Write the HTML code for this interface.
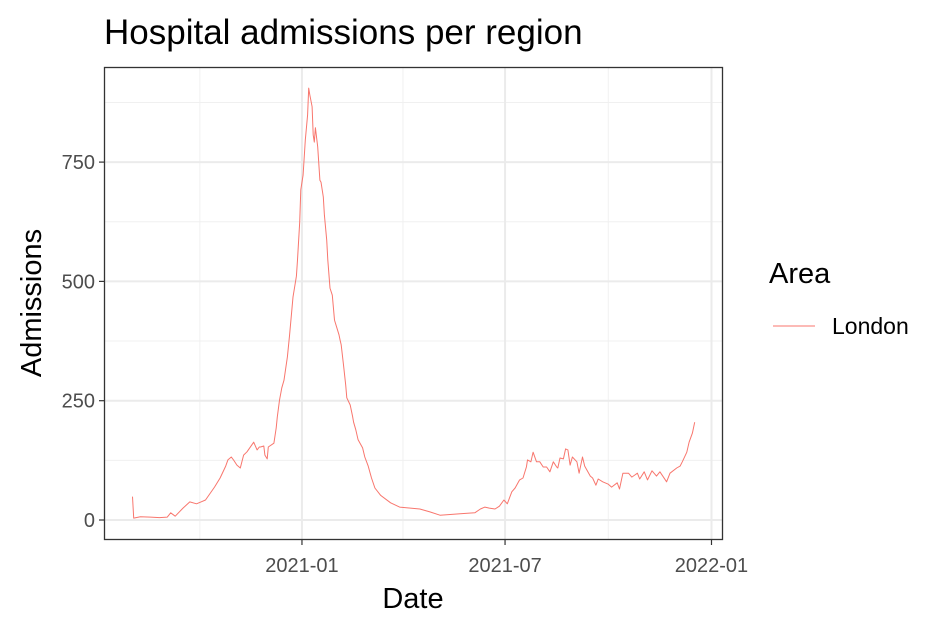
<!DOCTYPE html>
<html><head><meta charset="utf-8"><style>
body{margin:0;background:#fff;}
svg text{font-family:"Liberation Sans",Arial,sans-serif;}
</style></head><body>
<svg width="944" height="629" viewBox="0 0 944 629" xmlns="http://www.w3.org/2000/svg">
<rect width="944" height="629" fill="#fff"/>
<text x="104" y="44" font-size="35" fill="#000">Hospital admissions per region</text>
<g id="grid"></g>
<g id="series"></g>
<rect x="104.5" y="67.5" width="618" height="472" fill="none" stroke="#333" stroke-width="1.3"/>
<g id="axes"></g>
<text x="413" y="608" font-size="29" text-anchor="middle" fill="#000">Date</text>
<text transform="translate(41,303) rotate(-90)" font-size="29" text-anchor="middle" fill="#000">Admissions</text>
<g>
<text x="769" y="283" font-size="29" fill="#000">Area</text>
<line x1="773" y1="326" x2="815" y2="326" stroke="#F8766D" stroke-width="1"/>
<text x="832" y="334" font-size="23" fill="#000">London</text>
</g>
</svg>
<script>
// days since 2020-08-01
const days=[2,3,9,18,26,33,36,40,47,53,59,63,67,75,80,85,87,90,92,95,98,101,104,110,113,115,116,119,120,122,123,128,130,131,133,135,137,140,142,145,148,149,151,152,154,156,158,159,160,162,163,164,165,167,169,170,172,173,175,176,178,180,182,186,187,188,190,192,193,196,198,199,201,203,207,209,212,215,218,223,232,240,258,267,276,294,307,312,316,320,325,329,333,336,340,343,347,350,353,354,357,359,362,365,368,371,374,377,380,381,383,386,388,390,392,394,398,400,403,405,410,412,415,417,421,426,429,434,436,439,444,447,452,454,458,461,465,469,472,478,481,487,490,492,496,498,501,503];
const admissions=[49,4,7,6,5,6,15,8,25,38,34,38,42,69,88,113,126,132,126,115,109,136,143,163,147,153,153,155,136,128,153,161,193,216,251,277,293,342,388,467,511,545,624,692,723,796,849,905,891,866,807,792,822,782,712,708,677,639,587,545,486,471,419,388,377,367,325,283,256,241,218,205,189,168,151,132,113,88,67,52,36,27,23,17,10,13,15,23,27,25,23,29,42,34,59,67,84,88,111,126,122,142,122,122,111,111,101,122,111,109,130,128,149,147,115,132,122,98,132,113,92,88,73,86,80,75,69,78,65,98,98,90,98,86,101,84,103,92,101,80,98,109,113,122,142,163,182,205];
const yTicks=[0,250,500,750];
const yTickLabels=["0","250","500","750"];
const xTickDays=[153,334,518];
const xTickLabels=["2021-01","2021-07","2022-01"];
const xMinorDays=[62,243,426];
const yMinor=[125,375,625,875];

const NS="http://www.w3.org/2000/svg";
function xs(d){return 130.3+d*1.122;}
function ys(v){return 520-v*0.4772;}
function mk(tag,attrs,parent){const e=document.createElementNS(NS,tag);for(const k in attrs)e.setAttribute(k,attrs[k]);parent.appendChild(e);return e;}
const grid=document.getElementById('grid'),axes=document.getElementById('axes'),series=document.getElementById('series');
yMinor.forEach(v=>{const l=mk('line',{x1:104,x2:723,y1:ys(v),y2:ys(v),stroke:'#f0f0f0','stroke-width':1},grid);

});
xMinorDays.forEach(d=>{const l=mk('line',{x1:xs(d),x2:xs(d),y1:67,y2:540,stroke:'#f0f0f0','stroke-width':1},grid);

});
yTicks.forEach((v,i)=>{const y=ys(v);
const l=mk('line',{x1:104,x2:723,y1:y,y2:y,stroke:'#ebebeb','stroke-width':2},grid);


const t=mk('line',{x1:99,x2:104,y1:y,y2:y,stroke:'#333','stroke-width':1.2},axes);


const tx=mk('text',{x:95,y:y+7,'font-size':20,'text-anchor':'end',fill:'#4d4d4d'},axes);tx.textContent=yTickLabels[i];

});
xTickDays.forEach((d,i)=>{const x=xs(d);
const l=mk('line',{x1:x,x2:x,y1:67,y2:540,stroke:'#ebebeb','stroke-width':2},grid);


const t=mk('line',{x1:x,x2:x,y1:540,y2:545,stroke:'#333','stroke-width':1.2},axes);


const tx=mk('text',{x:x,y:572,'font-size':20,'text-anchor':'middle',fill:'#4d4d4d'},axes);tx.textContent=xTickLabels[i];

});
const pts=days.map((d,i)=>xs(d).toFixed(1)+','+ys(admissions[i]).toFixed(1)).join(' ');
const pl=mk('polyline',{points:pts,fill:'none',stroke:'#F8766D','stroke-width':1,'stroke-linejoin':'round'},series);


</script>
</body></html>
